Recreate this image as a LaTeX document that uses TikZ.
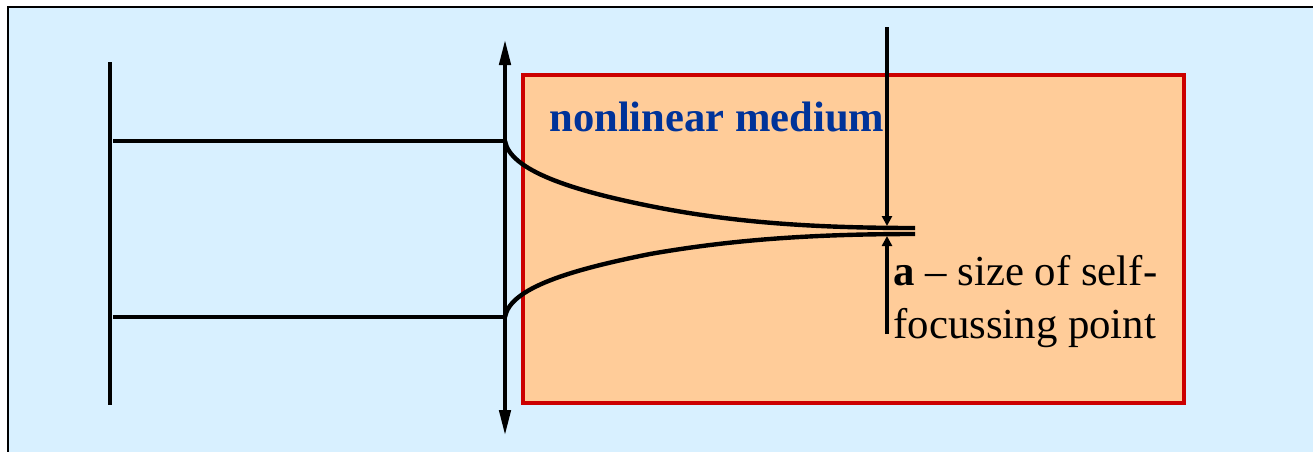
\documentclass[tikz,border=0pt]{standalone}
\usepackage{fontspec}
\setmainfont{Liberation Serif}
\usetikzlibrary{arrows.meta}
\definecolor{panelblue}{HTML}{D8F0FF}
\definecolor{mediumorange}{HTML}{FFCC99}
\definecolor{mediumred}{HTML}{CC0000}
\definecolor{labelblue}{HTML}{003399}
\tikzset{
  beam/.style={line width=2.2pt},
  lensarrow/.style={line width=2.2pt,{Triangle[length=13pt,width=5.5pt]}-{Triangle[length=13pt,width=5.5pt]}},
  sizearrow/.style={line width=1.6pt,-{Triangle[length=5pt,width=5pt]}},
  caption/.style={inner sep=0pt,anchor=base west,font=\fontsize{21.4pt}{24pt}\selectfont}
}
\begin{document}
\begin{tikzpicture}[x=0.5pt,y=-0.5pt]
        \useasboundingbox (0,0) rectangle (1313,451);
        \draw [black,line width=1pt,fill=panelblue] (8,7) rectangle (1340,480);
        \draw [mediumred,line width=2.2pt,fill=mediumorange] (523,75) rectangle (1184,403);
        % object plane and lens
        \coordinate (planetop) at (110,62);
        \coordinate (planebottom) at (110,405);
        \coordinate (lenstop) at (505,39);
        \coordinate (lensbottom) at (505,436);
        \coordinate (upperleft) at (113,141);
        \coordinate (lowerleft) at (113,317);
        \coordinate (upperlens) at (505,141);
        \coordinate (lowerlens) at (505,317);
        \coordinate (upperfocus) at (915,228);
        \coordinate (lowerfocus) at (915,234);
        \draw [beam] (planetop) -- (planebottom);
        \draw [lensarrow] (lenstop) -- (lensbottom);
        \draw [beam] (upperleft) -- (upperlens);
        \draw [beam] (lowerleft) -- (lowerlens);
        \draw [beam] (upperlens) .. controls (510,170) and (570,190) .. (650,206)
                .. controls (730,222) and (810,228) .. (upperfocus);
        \draw [beam] (lowerlens) .. controls (510,288) and (570,270) .. (650,254)
                .. controls (730,240) and (810,234) .. (lowerfocus);
        % size of the focus
        \coordinate (sizetop) at (887,27);
        \coordinate (sizeuppertip) at (887,226);
        \coordinate (sizebottom) at (887,334);
        \coordinate (sizelowertip) at (887,236);
        \draw [sizearrow] (sizetop) -- (sizeuppertip);
        \draw [sizearrow] (sizebottom) -- (sizelowertip);
        \node (mediumlabel) [caption,text=labelblue,font=\fontsize{21.3pt}{24pt}\bfseries\selectfont] at (549,131) {nonlinear medium};
        \node (sizelabel) [caption] at (893,285) {\textbf{a} -- size of self-};
        \node (pointlabel) [caption] at (893,338) {focussing point};
    \end{tikzpicture}
\end{document}
